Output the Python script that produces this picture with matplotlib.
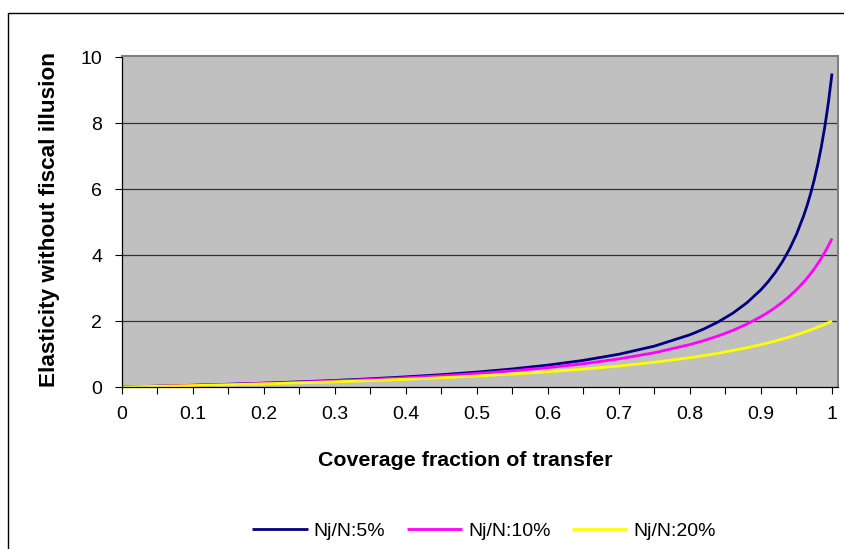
import matplotlib
matplotlib.use("Agg")
import matplotlib.pyplot as plt
from matplotlib.patches import Rectangle

x = [0, 0.05, 0.1, 0.15, 0.2, 0.25, 0.3, 0.35, 0.4, 0.45, 0.5, 0.55, 0.6, 0.65,
     0.7, 0.75, 0.8, 0.82, 0.84, 0.86, 0.88, 0.9, 0.91, 0.92, 0.93, 0.94, 0.95,
     0.96, 0.965, 0.97, 0.975, 0.98, 0.985, 0.99, 0.995, 1.0]
s5 = [0, 0.025, 0.053, 0.083, 0.117, 0.156, 0.199, 0.249, 0.307, 0.373, 0.452,
      0.547, 0.663, 0.807, 0.993, 1.239, 1.583, 1.762, 1.975, 2.232, 2.549,
      2.948, 3.190, 3.468, 3.792, 4.173, 4.628, 5.182, 5.506, 5.869, 6.280,
      6.746, 7.282, 7.903, 8.632, 9.5]
s10 = [0, 0.024, 0.050, 0.078, 0.110, 0.145, 0.185, 0.230, 0.281, 0.340, 0.409,
       0.490, 0.587, 0.705, 0.851, 1.038, 1.286, 1.408, 1.549, 1.712, 1.904,
       2.132, 2.262, 2.407, 2.567, 2.747, 2.948, 3.176, 3.302, 3.437, 3.582,
       3.737, 3.905, 4.087, 4.285, 4.5]
s20 = [0, 0.021, 0.043, 0.068, 0.095, 0.125, 0.158, 0.194, 0.235, 0.281, 0.333,
       0.393, 0.462, 0.542, 0.636, 0.750, 0.889, 0.953, 1.024, 1.103, 1.189,
       1.286, 1.338, 1.394, 1.453, 1.516, 1.583, 1.655, 1.693, 1.732, 1.773,
       1.815, 1.858, 1.904, 1.951, 2.0]
labels = ["Nj/N:5%", "Nj/N:10%", "Nj/N:20%"]
colors = ["#000080", "#FF00FF", "#FFFF00"]
xticks = [0, 0.1, 0.2, 0.3, 0.4, 0.5, 0.6, 0.7, 0.8, 0.9, 1]
xticklabels = ["0", "0.1", "0.2", "0.3", "0.4", "0.5", "0.6", "0.7", "0.8", "0.9", "1"]
yticks = [0, 2, 4, 6, 8, 10]

plt.rcParams['font.family'] = ['Liberation Sans', 'DejaVu Sans']

W, H = 845, 549
fig = plt.figure(figsize=(W / 100, H / 100), dpi=100)
fig.patch.set_facecolor("white")
# outer chart border
fig.add_artist(Rectangle((8 / W, -0.1), 1.2, 1 - 13 / H + 0.1, transform=fig.transFigure,
                         fill=False, edgecolor="black", linewidth=1.0))

left, right, top, bottom = 121.7, 838, 56, 387
ax = fig.add_axes([left / W, 1 - bottom / H, (right - left) / W, (bottom - top) / H])
ax.set_facecolor("#C0C0C0")

for ys, lab, c in zip([s5, s10, s20], labels, colors):
    ax.plot(x, ys, color=c, linewidth=2.0, label=lab, solid_capstyle="butt")

x1px = 832
ax.set_xlim(0, (right - left) / (x1px - left))
ax.set_ylim(0, (bottom - top) / 33.0)
ax.set_xticks(xticks)
ax.set_xticklabels(xticklabels)
ax.set_xticks([v + 0.05 for v in xticks[:-1]], minor=True)
ax.set_yticks(yticks)
ax.tick_params(axis="both", which="both", direction="out", length=5, width=0.8,
               labelsize=14, colors="black")
ax.tick_params(axis="y", pad=9)
ax.tick_params(axis="x", pad=8.5)
for yv in yticks[1:-1]:
    ax.axhline(yv, color="#333333", linewidth=0.9, zorder=0.5)
for sp in ax.spines.values():
    sp.set_color("#808080")
    sp.set_linewidth(1.5)
ax.spines["left"].set_color("#000000")
ax.spines["left"].set_linewidth(0.9)
ax.spines["bottom"].set_color("#000000")
ax.spines["bottom"].set_linewidth(0.9)

fig.text(465 / W, 1 - 461 / H, "Coverage fraction of transfer", ha="center", va="center",
         fontsize=15.4, fontweight="bold")
fig.text(50 / W, 1 - 220 / H, "Elasticity without fiscal illusion", ha="center", va="center",
         rotation=90, fontsize=16.2, fontweight="bold")

fig.legend(loc="center", bbox_to_anchor=(484 / W, 1 - 531 / H), ncol=3, frameon=False,
           fontsize=14, handlelength=2.85, handletextpad=0.3, columnspacing=1.1,
           borderpad=0.2)

fig.savefig("out.png", dpi=100)
